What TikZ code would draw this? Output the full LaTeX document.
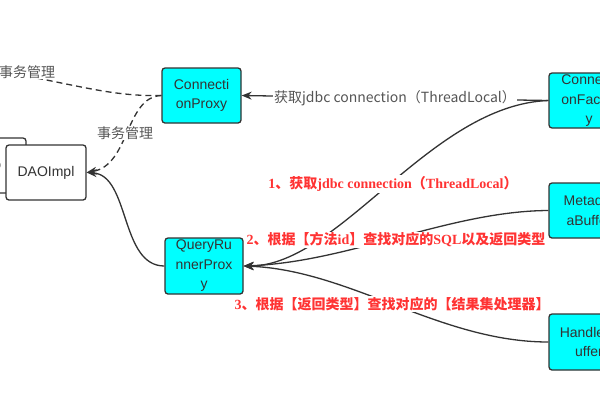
\documentclass[tikz,border=0pt]{standalone}
\usepackage{fontspec}
\setmainfont{Liberation Serif}
\setsansfont{Liberation Sans}
\newfontfamily\cjk{Noto Sans CJK SC}
\usetikzlibrary{arrows.meta}
\definecolor{boxline}{HTML}{333333}
\definecolor{boxfill}{HTML}{00FFFF}
\definecolor{graytext}{HTML}{555555}
\definecolor{redtext}{HTML}{FF3333}
\tikzset{
  box/.style={draw=boxline, line width=1.3pt, rounded corners=3pt, fill=boxfill,
    minimum width=80pt, minimum height=55pt, inner sep=0pt, align=center,
    font=\sffamily\fontsize{14}{19.5}\selectfont, text=boxline},
  whitebox/.style={box, fill=white},
  conn/.style={draw=boxline, line width=1.3pt},
  arr/.style={conn, -{Stealth[length=10pt,width=8pt]}},
  dashline/.style={conn, dash pattern=on 6pt off 4pt},
  graylab/.style={fill=white, inner sep=1pt, text=graytext, font=\cjk\fontsize{14}{16}\selectfont},
  redlab/.style={fill=white, inner sep=1pt, text=redtext, font=\cjk\bfseries\fontsize{14}{16}\selectfont},
}
\begin{document}
\begin{tikzpicture}[x=1pt,y=-1pt]
\useasboundingbox (0,0) rectangle (600,400);
\clip (0,0) rectangle (600,400);
\fill[white] (0,0) rectangle (600,400);
% boxes
\node[whitebox] (dao) at (-14,165.5) {DAO};
\node[whitebox, minimum width=80pt] (daoimpl) at (46,172.5) {DAOImpl};
\node[box, minimum width=79pt] (cp) at (201.5,95.5) {Connecti\\onProxy};
\node[box, minimum width=78pt, minimum height=56pt] (qr) at (204,266) {QueryRu\\nnerProx\\y};
\node[box] (cf) at (589,100.5) {Connecti\\onFactor\\y};
\node[box] (mb) at (589,210.5) {Metadat\\aBuffer};
\node[box, minimum height=56pt] (hb) at (589,342) {HandlerB\\uffer};
% free end of dashed line
\coordinate (leftend) at (-40,66);
% connectors
\draw[arr] (cf.west) -- (cp.east)
  node[graylab, midway] (lab0) {获取jdbc connection（ThreadLocal）};
\draw[arr] (cf.west) .. controls (430,105) and (340,266) .. (qr.east);
\draw[arr] (mb.west) .. controls (450,211) and (350,262) .. (qr.east);
\draw[arr] (hb.west) .. controls (440,342) and (350,270) .. (qr.east);
\draw[arr] (qr.west) .. controls (120,266) and (130,175) .. (daoimpl.east);
\draw[dashline, -{Stealth[length=10pt,width=8pt]}] (cp.west) .. controls (125,97) and (130,165) .. (daoimpl.east);
\draw[dashline] (cp.west) .. controls (100,97) and (60,78) .. (leftend);
% labels
\node[graylab] (tm1) at (125,133) {事务管理};
\node[graylab] (tm2) at (27,72) {事务管理};
\node[redlab] (r1) at (393,184) {{\rmfamily 1}、获取{\rmfamily jdbc connection}（{\rmfamily ThreadLocal}）};
\node[redlab] (r2) at (396,240) {{\rmfamily 2}、根据【方法{\rmfamily id}】查找对应的{\rmfamily SQL}以及返回类型};
\node[redlab] (r3) at (392,304) {{\rmfamily 3}、根据【返回类型】查找对应的【结果集处理器】};
\end{tikzpicture}
\end{document}
